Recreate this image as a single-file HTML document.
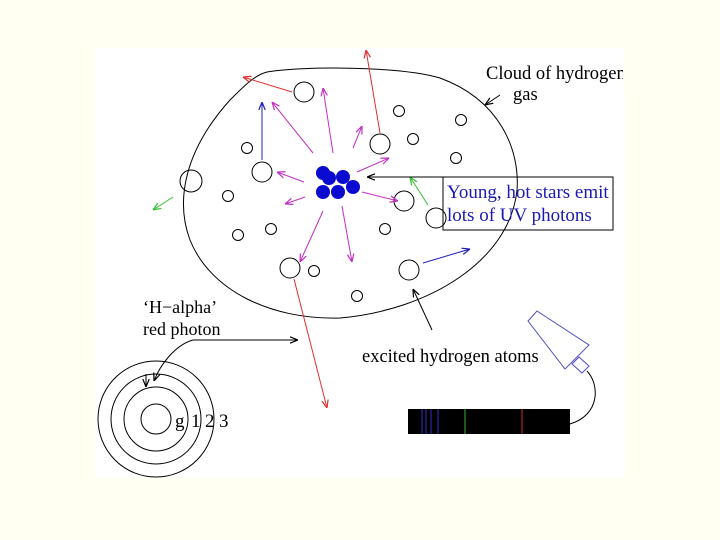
<!DOCTYPE html>
<html><head><meta charset="utf-8"><style>
html,body{margin:0;padding:0;background:#fffff2;}
svg{display:block;}
text{font-family:"Liberation Serif",serif;}
</style></head><body>
<svg width="720" height="540" viewBox="0 0 720 540" xmlns="http://www.w3.org/2000/svg">
<defs>
<marker id="m" viewBox="0 0 10 10" refX="10" refY="5" markerWidth="8" markerHeight="8" orient="auto" markerUnits="userSpaceOnUse"><path d="M0,1 L10,5 L0,9" fill="none" stroke="#c030c0" stroke-width="1.5"/></marker>
<marker id="r" viewBox="0 0 10 10" refX="10" refY="5" markerWidth="8" markerHeight="8" orient="auto" markerUnits="userSpaceOnUse"><path d="M0,1 L10,5 L0,9" fill="none" stroke="#e03030" stroke-width="1.5"/></marker>
<marker id="b" viewBox="0 0 10 10" refX="10" refY="5" markerWidth="8" markerHeight="8" orient="auto" markerUnits="userSpaceOnUse"><path d="M0,1 L10,5 L0,9" fill="none" stroke="#2020c0" stroke-width="1.5"/></marker>
<marker id="g" viewBox="0 0 10 10" refX="10" refY="5" markerWidth="8" markerHeight="8" orient="auto" markerUnits="userSpaceOnUse"><path d="M0,1 L10,5 L0,9" fill="none" stroke="#30c030" stroke-width="1.5"/></marker>
<marker id="k" viewBox="0 0 10 10" refX="10" refY="5" markerWidth="8" markerHeight="8" orient="auto" markerUnits="userSpaceOnUse"><path d="M0,1 L10,5 L0,9" fill="none" stroke="#000" stroke-width="1.5"/></marker>
</defs>
<rect x="95" y="48" width="530" height="430" fill="#fff"/>
<path d="M267 72 C300 66,400 66,440 78 C500 100,520 150,517 190 C510 260,430 310,340 318 C270 320,210 290,190 240 C175 200,185 150,230 100 C245 85,255 75,267 72 Z" fill="none" stroke="#000" stroke-width="1"/>
<g fill="none" stroke="#000" stroke-width="1">
<circle cx="304" cy="92" r="10"/><circle cx="380" cy="144" r="10"/><circle cx="399" cy="111" r="5.5"/>
<circle cx="461" cy="120" r="5.5"/><circle cx="413" cy="139" r="5.5"/><circle cx="456" cy="158" r="5.5"/>
<circle cx="247" cy="148" r="5.5"/><circle cx="262" cy="172" r="10"/><circle cx="191" cy="181" r="11"/>
<circle cx="228" cy="196" r="5.5"/><circle cx="238" cy="235" r="5.5"/><circle cx="271" cy="229" r="5.5"/>
<circle cx="404" cy="201" r="10"/><circle cx="436" cy="218" r="10"/><circle cx="385" cy="229" r="5.5"/>
<circle cx="290" cy="268" r="10"/><circle cx="314" cy="271" r="5.5"/><circle cx="409" cy="270" r="10"/>
<circle cx="357" cy="296" r="5.5"/>
</g>
<g fill="#0a0ad0">
<circle cx="323" cy="173" r="7"/><circle cx="329" cy="178" r="7"/><circle cx="343" cy="177" r="7"/>
<circle cx="353" cy="187" r="7"/><circle cx="323" cy="192" r="7"/><circle cx="338" cy="192" r="7"/>
</g>
<g stroke="#c030c0" stroke-width="1" marker-end="url(#m)">
<line x1="333" y1="153" x2="323" y2="88"/><line x1="313" y1="153" x2="272" y2="102"/>
<line x1="353" y1="148" x2="362" y2="126"/><line x1="357" y1="172" x2="389" y2="158"/>
<line x1="304" y1="182" x2="277" y2="172"/><line x1="305" y1="197" x2="285" y2="204"/>
<line x1="362" y1="192" x2="398" y2="201"/><line x1="323" y1="211" x2="300" y2="262"/>
<line x1="342" y1="206" x2="352" y2="262"/>
</g>
<g stroke="#e03030" stroke-width="1" marker-end="url(#r)">
<line x1="292" y1="92" x2="243" y2="77"/><line x1="380" y1="133" x2="366" y2="50"/>
<line x1="294" y1="279" x2="327" y2="408"/>
</g>
<g stroke="#2020c0" stroke-width="1" marker-end="url(#b)">
<line x1="262" y1="160" x2="262" y2="102"/><line x1="423" y1="263" x2="470" y2="249"/>
</g>
<g stroke="#30c030" stroke-width="1" marker-end="url(#g)">
<line x1="173" y1="197" x2="153" y2="210"/><line x1="428" y1="205" x2="410" y2="177"/>
</g>
<g stroke="#000" stroke-width="1" fill="none" marker-end="url(#k)">
<line x1="443" y1="177" x2="367" y2="177"/>
<line x1="500" y1="95" x2="485" y2="105"/>
<line x1="432" y1="330" x2="413" y2="289"/>
<line x1="193" y1="340" x2="298" y2="340"/>
<path d="M193 340 C175 345,160 365,154 381"/>
<line x1="146" y1="374" x2="146" y2="387"/>
</g>
<rect x="443" y="177" width="170" height="53" fill="none" stroke="#000" stroke-width="1"/>
<text x="447" y="198" font-size="19" fill="#1a1ab0">Young, hot stars emit</text>
<text x="447" y="221" font-size="19" fill="#1a1ab0">lots of UV photons</text>
<text x="486" y="79" font-size="18.5">Cloud of hydrogen</text>
<rect x="623" y="55" width="30" height="35" fill="#fffff2"/>
<text x="513" y="100" font-size="18.5">gas</text>
<text x="143" y="313" font-size="18">‘H−alpha’</text>
<text x="143" y="335" font-size="18">red photon</text>
<text x="362" y="362" font-size="18.5">excited hydrogen atoms</text>
<g fill="none" stroke="#000" stroke-width="1">
<circle cx="156" cy="419" r="15"/><circle cx="156" cy="419" r="32"/>
<circle cx="156" cy="419" r="45"/><circle cx="156" cy="419" r="58"/>
</g>
<text x="175" y="427" font-size="19">g</text>
<text x="191" y="427" font-size="19">1</text>
<text x="205" y="427" font-size="19">2</text>
<text x="219" y="427" font-size="19">3</text>
<rect x="408" y="409" width="162" height="25" fill="#000"/>
<g stroke-width="1">
<line x1="422" y1="409" x2="422" y2="434" stroke="#3030c0"/><line x1="426" y1="409" x2="426" y2="434" stroke="#3030c0"/>
<line x1="431" y1="409" x2="431" y2="434" stroke="#3030c0"/><line x1="438" y1="409" x2="438" y2="434" stroke="#3030c0"/>
<line x1="465" y1="409" x2="465" y2="434" stroke="#30b030"/><line x1="522" y1="409" x2="522" y2="434" stroke="#c03030"/>
</g>
<path d="M528 321 L537 311 L589 345 L565 369 Z" fill="none" stroke="#5050c0" stroke-width="1"/>
<path d="M572 364 L579 357 L589 366 L582 373 Z" fill="none" stroke="#5050c0" stroke-width="1"/>
<path d="M587 371 C600 385,600 415,570 424" fill="none" stroke="#000" stroke-width="1"/>
</svg>
</body></html>
